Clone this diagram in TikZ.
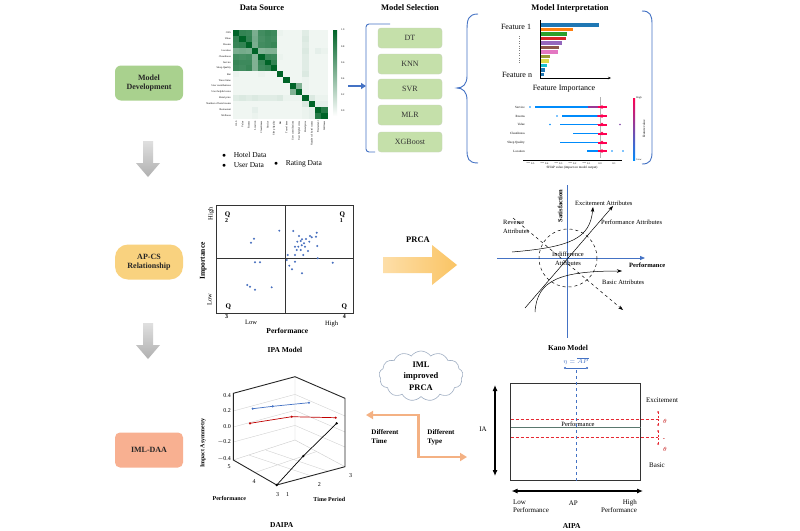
\documentclass[tikz,border=0pt]{standalone}
\usepackage{fontspec}
\setmainfont{Liberation Serif}
\usetikzlibrary{shapes.arrows,shapes.symbols,arrows.meta}
\definecolor{hm}{RGB}{0,100,40}
\definecolor{mdg}{RGB}{169,209,142}
\definecolor{msg}{RGB}{197,224,170}
\definecolor{apo}{RGB}{249,210,127}
\definecolor{iml}{RGB}{248,176,145}
\definecolor{bl}{RGB}{68,114,196}
\definecolor{dotb}{RGB}{70,110,190}
\definecolor{orl}{RGB}{244,177,131}
\definecolor{rd}{RGB}{192,0,0}
\definecolor{rdd}{RGB}{230,40,50}
\definecolor{shb}{RGB}{0,139,251}
\definecolor{shr}{RGB}{255,0,82}
\definecolor{pln}{RGB}{90,120,110}
\definecolor{cldc}{RGB}{160,175,195}
\definecolor{pal}{RGB}{253,222,168}
\definecolor{par}{RGB}{250,196,100}
\tikzset{
  lbl/.style={font=\fontsize{6.5}{7.5}\selectfont, inner sep=0},
  tiny/.style={font=\fontsize{2.6}{3}\selectfont, inner sep=0},
  ttl/.style={font=\bfseries\fontsize{8.5}{10}\selectfont, inner sep=0},
  blbl/.style={font=\bfseries\fontsize{7}{8}\selectfont, inner sep=0},
  stagebox/.style={minimum width=68, minimum height=35, align=center, font=\bfseries\fontsize{8}{9.5}\selectfont, text=black!85},
  msbox/.style={fill=msg, draw=msg!80!black!60, rounded corners=3, minimum width=64, minimum height=20, font=\fontsize{8}{9}\selectfont, text=black!80},
  greyshade/.style={top color=gray!25, bottom color=gray!62},
  ktip/.style={-{Stealth[length=5,width=3.5]}, line width=0.5},
}
\begin{document}
\begin{tikzpicture}[x=1pt,y=-1pt]
\useasboundingbox[fill=white] (0,0) rectangle (800,530);

% ---------- left stages ----------
\node[stagebox, fill=mdg, rounded corners=6] (md) at (149,83) {Model\\Development};
\node[stagebox, fill=apo, rounded corners=13] (ap) at (149,262) {AP-CS\\Relationship};
\node[stagebox, fill=iml, rounded corners=5] (ia) at (149,450) {IML-DAA};
\shade[greyshade] (143,141) -- (153,141) -- (153,163) -- (160,163) -- (148,177) -- (136,163) -- (143,163) -- cycle;
\shade[greyshade] (143,323) -- (153,323) -- (153,345) -- (160,345) -- (148,359) -- (136,345) -- (143,345) -- cycle;

% ---------- Data source ----------
\node[ttl] (tds) at (262,8) {Data Source};
\foreach \row [count=\i from 0] in {
 {100,80,78,52,74,78,76,8,6,6,6,12,6,6,6},
 {80,100,80,54,72,76,74,6,6,6,6,14,6,6,6},
 {78,80,100,52,74,76,78,6,6,6,6,12,6,6,6},
 {52,54,52,100,48,50,50,6,6,6,6,14,6,10,8},
 {74,72,74,48,100,78,76,8,6,6,6,12,6,6,6},
 {78,76,76,50,78,100,80,6,6,6,6,12,6,6,6},
 {76,74,78,50,76,80,100,6,6,6,6,12,6,6,6},
 {8,6,6,6,8,6,6,100,6,6,6,14,6,6,6},
 {6,6,6,6,6,6,6,6,100,6,6,8,6,6,6},
 {6,6,6,6,6,6,6,6,6,100,50,8,6,6,6},
 {6,6,6,6,6,6,6,6,6,50,100,8,6,6,6},
 {12,14,12,14,12,12,12,14,8,8,8,100,14,8,8},
 {6,6,6,6,6,6,6,6,6,6,6,14,100,10,10},
 {6,6,6,10,6,6,6,6,6,6,6,8,10,100,86},
 {6,6,6,8,6,6,6,6,6,6,6,8,10,86,100}}{
  \foreach \v [count=\j from 0] in \row {
    \fill[hm!\v!white] ({233+\j*6.3},{30+\i*5.9}) rectangle ++(6.3,5.9);
  }
}
\foreach \t [count=\k from 0] in {OLS, Value, Rooms, Location, Cleanliness, Service, Sleep Quality, Bar, Travel time, User contributions, User helpful votes, Hotel price, Number of hotel rooms, Restaurant, Wellness}{
  \node[tiny, anchor=east] (rl\k) at (231,{30+(\k+0.5)*5.9}) {\t};
  \node[tiny, anchor=east, rotate=90] (cl\k) at ({233+(\k+0.5)*6.3},121) {\t};
}
\shade[top color=hm, bottom color=white] (333,30) rectangle (337,116);
\foreach \t [count=\k from 0] in {1.0,0.8,0.6,0.4,0.2,0.0}{
  \node[tiny, anchor=west] (cb\k) at (341,{30+\k*16.2}) {\t};
}
\node[lbl, font=\fontsize{7.5}{9}\selectfont, anchor=west] (hd) at (222,155) {$\bullet$\quad Hotel Data};
\node[lbl, font=\fontsize{7.5}{9}\selectfont, anchor=west] (ud) at (222,165) {$\bullet$\quad User Data};
\node[lbl, font=\fontsize{7.5}{9}\selectfont, anchor=west] (rdta) at (274,164) {$\bullet$\quad Rating Data};
\coordinate (bas) at (348,86);
\coordinate (brk) at (366,86);
\draw[bl, line width=1.8, -{Triangle[length=5,width=6]}] (bas) -- (brk);

% ---------- Model selection ----------
\node[ttl] (tms) at (410,8) {Model Selection};
\draw[bl, line width=0.9, rounded corners=3] (390,24) -- (366,24) -- (366,152) -- (375,152);
\node[msbox] (dt) at (410,38) {DT};
\node[msbox] (knn) at (410,64) {KNN};
\node[msbox] (svr) at (410,89) {SVR};
\node[msbox] (mlr) at (410,115) {MLR};
\node[msbox] (xgb) at (410,142) {XGBoost};
\draw[bl, line width=0.9] (478,14) .. controls (468,14) and (467,20) .. (467,30) -- (467,76)
  .. controls (467,84) and (463,88) .. (457,88) .. controls (463,88) and (467,92) .. (467,100)
  -- (467,150) .. controls (467,158) and (468,163) .. (478,163);
\draw[bl, line width=0.9] (642,11) .. controls (650,11) and (652,15) .. (652,24) -- (652,152) .. controls (652,160) and (650,164) .. (642,164);

% ---------- Model interpretation ----------
\node[ttl] (tmi) at (570,8) {Model Interpretation};
\node[lbl, font=\fontsize{8}{9}\selectfont] (f1) at (516,27) {Feature 1};
\node[lbl, font=\fontsize{8}{9}\selectfont] (fn) at (517,75) {Feature n};
\draw[dotted, gray] (519,36) -- (519,64);
\coordinate (ax0) at (540,78);
\coordinate (axx) at (611,78);
\coordinate (axy) at (540,20);
\draw[line width=0.5, -{Stealth[length=3,width=2.5]}] (ax0) -- (axx);
\draw[line width=0.5] (ax0) -- (axy);
\foreach \len/\yy/\c in {58/25/1f77b4,32/29.5/ff7f0e,26/34/2ca02c,25/38.5/d62728,21/43/9467bd,18/47.5/8c564b,17/52/e377c2,9/56.5/9a9a3a,8/61/dbdb4a,6/65.5/17becf,4/70/1f77b4,3/74.5/1f77b4}{
  \definecolor{bc}{HTML}{\c}
  \fill[bc] (540.5,{\yy-1.6}) rectangle ++(\len,3.2);
}
\node[lbl, font=\fontsize{8}{9}\selectfont] (fi) at (564,89) {Feature Importance};
% shap plot
\draw[gray!60, line width=0.4] (600,97) -- (600,158);
\foreach \nm/\yy/\st/\en [count=\k] in {Service/107/535/588, Rooms/116/562/597, Value/124.5/560/597, Cleanliness/133.5/573/598, Sleep Quality/142.5/560/598, Location/151/587/598}{
  \node[tiny, font=\fontsize{3.2}{4}\selectfont, anchor=east] (sr\k) at (525,\yy) {\nm};
  \draw[shb, line width=1.3] (\st,\yy) -- (\en,\yy);
  \draw[shb!40!shr, line width=1.6] (\en,\yy) -- (600,\yy);
  \draw[shr, line width=2] (598,\yy) -- (607,\yy);
  \fill[shr] (602,\yy) circle (1.8);
}
\fill[shb] (530,107) circle (0.8);
\fill[shb] (557,116) circle (0.8);
\fill[shb] (550,124.5) circle (0.8);
\fill[shb!50!shr] (620,124.5) circle (0.8);
\fill[shb] (623,151) circle (0.8);
\fill[shb] (612,151) circle (0.8);
\draw[line width=0.4] (523,160) -- (622,160);
\foreach \t [count=\k from 0] in {$-$0.5,$-$0.4,$-$0.3,$-$0.2,$-$0.1,0.0,0.1}{
  \node[tiny] (sx\k) at ({530+\k*14},163.5) {\t};
}
\node[tiny, font=\fontsize{3.3}{4}\selectfont] (sxl) at (572,168) {SHAP value (impact on model output)};
\shade[top color=shr, bottom color=shb] (633,98) rectangle (635,160);
\node[tiny] (hi) at (639,98) {High};
\node[tiny] (lo) at (639,160) {Low};
\node[tiny, font=\fontsize{3.3}{4}\selectfont, rotate=90] (fv) at (644,129) {Feature value};

% ---------- IPA ----------
\draw[black!80, line width=0.9] (216,205) rectangle (353,313);
\draw[black!80, line width=0.9] (285,205) -- (285,313);
\draw[black!80, line width=0.9] (216,258) -- (353,258);
\node[blbl] (q2) at (227.7,214.3) {Q};
\node[blbl, font=\bfseries\fontsize{6}{7}\selectfont] (q2n) at (226.7,221) {2};
\node[blbl] (q1) at (342.3,214.3) {Q};
\node[blbl, font=\bfseries\fontsize{6}{7}\selectfont] (q1n) at (341.3,221) {1};
\node[blbl] (q3) at (228.3,306.7) {Q};
\node[blbl, font=\bfseries\fontsize{6}{7}\selectfont] (q3n) at (226.7,316.5) {3};
\node[blbl] (q4) at (344.3,306.7) {Q};
\node[blbl, font=\bfseries\fontsize{6}{7}\selectfont] (q4n) at (344.3,316.5) {4};
\node[lbl, rotate=90] (ihi) at (211,213.5) {High};
\node[lbl, rotate=90] (ilo) at (209.5,299.5) {Low};
\node[blbl, font=\bfseries\fontsize{7.5}{9}\selectfont, rotate=90] (imp) at (203.3,261) {Importance};
\node[lbl] (plo) at (251,322.7) {Low};
\node[lbl] (phi) at (331.7,324) {High};
\node[blbl, font=\bfseries\fontsize{7.5}{9}\selectfont] (perf) at (287.3,331) {Performance};
\foreach \p in {(279.3,230.7),(293.3,231),(254,238.7),(251,242.7),(316.7,232.7),(310,236),(311.7,237.3),(316,236.7),(297.3,241.7),(300.7,241),(302,239.3),(304,243.3),(309.3,241.7),(317.3,246),(295,246.7),(298.3,246.7),(301.7,245.3),(305,246.7),(296.7,250),(300.7,250),(308,251),(287.7,255),(295,255),(303.3,255),(317.7,258.3),(286.7,260),(295,261.7),(332.7,262.7),(255,262.3),(260,262.3),(289.3,265.7),(292,269.3),(302,273.3),(247.3,285),(250,286.7),(255,289.7),(271.7,287.3),(299,236),(306,239)}{
  \fill[dotb] \p circle (1.1);
}
\node[ttl, font=\bfseries\fontsize{7.5}{9}\selectfont] (ipa) at (285,350) {IPA Model};

% ---------- PRCA arrow ----------
\shade[left color=pal, right color=par] (383,257) -- (432,257) -- (432,245) -- (457,265) -- (432,285) -- (432,273) -- (383,273) -- cycle;
\node[ttl] (prca) at (418,240) {PRCA};

% ---------- Kano ----------
\coordinate (kt) at (567,185);
\coordinate (kb) at (567,338);
\coordinate (kl) at (497,258);
\coordinate (kr) at (645,258);
\draw[bl, line width=0.8] (kt) -- (kb);
\draw[bl, line width=0.8, -{Triangle[length=5,width=4]}] (kl) -- (kr);
\node[blbl, font=\bfseries\fontsize{6.5}{7.5}\selectfont, rotate=90] (sat) at (560,206) {Satisfaction};
\node[blbl, font=\bfseries\fontsize{6.5}{7.5}\selectfont, anchor=west] (kperf) at (629,265) {Performance};
\draw[dashed, line width=0.5] (568,258) circle (29);
\coordinate (e0) at (512,252); \coordinate (e1) at (593,207);
\coordinate (p0) at (525,308); \coordinate (p1) at (613,206);
\coordinate (b0) at (535,312); \coordinate (b1) at (622,271);
\coordinate (r0) at (513,218); \coordinate (r1) at (623,310);
\draw[ktip] (e0) .. controls (572,247) and (590,238) .. (e1);
\draw[ktip] (p0) -- (p1);
\draw[ktip] (b0) .. controls (537,280) and (560,271) .. (b1);
\draw[ktip, dashed] (r0) -- (r1);
\node[lbl, anchor=west] (ea) at (575,203) {Excitement Attributes};
\node[lbl, anchor=west] (pat) at (601,222) {Performance Attributes};
\node[lbl, anchor=west] (bat) at (602,282) {Basic Attributes};
\node[lbl, align=left, anchor=west] (rat) at (503,227) {Reverse\\[1.5pt]Attributes};
\node[lbl, align=center] (iat) at (568,259) {Indifference\\[1.5pt]Attributes};
\node[ttl, font=\bfseries\fontsize{7.5}{9}\selectfont] (kano) at (568,348) {Kano Model};

% ---------- DAIPA ----------
\coordinate (TL) at (233.3,393.3); \coordinate (TB) at (295,376.7); \coordinate (TR) at (345,398.3);
\coordinate (RB) at (345,466.7); \coordinate (FB) at (276.7,485); \coordinate (LB) at (233.3,460);
\coordinate (BB) at (295,440);
\draw[gray!40, line width=0.4] (TB) -- (BB) -- (LB) (BB) -- (RB);
\foreach \yy in {411,427,442}{
  \draw[gray!35, line width=0.4] (233.3,\yy) -- (295,{\yy-16.6}) -- (345,{\yy+5});
}
\draw[gray!35, line width=0.4] (255,472.5) -- (316.7,451.5) (310.8,475.8) -- (249.1,455.1) (328,471.3) -- (266.2,450.2);
\draw[black!85, line width=0.9] (TL) -- (TB) -- (TR) -- (RB) -- (FB) -- (LB) -- cycle;
\draw[bl, line width=0.7] (252.7,408.7) -- (272.7,406.3) -- (309,402.7);
\foreach \p in {(252.7,408.7),(272.7,406.3),(309,402.7)} \fill[bl] \p circle (1.2);
\draw[rd, line width=0.7] (250,423.3) -- (291.7,416.7) -- (335.7,417.7);
\foreach \p in {(250,423.3),(291.7,416.7),(335.7,417.7)} \fill[rd] \p circle (1.2);
\draw[black, line width=0.7] (336.7,423.3) -- (303.3,456) -- (276.7,485);
\foreach \p in {(336.7,423.3),(303.3,456),(276.7,485)} \fill[black] \p circle (1.3);
\foreach \t/\yy [count=\k] in {0.4/396,0.2/411,0.0/426.7,$-$0.2/442.3,$-$0.4/459.3}{
  \node[lbl, font=\fontsize{6}{7}\selectfont, anchor=east] (zt\k) at (231,\yy) {\t};
}
\node[blbl, font=\bfseries\fontsize{6}{7}\selectfont, rotate=90] (iasy) at (203,443) {Impact Asymmetry};
\node[lbl, font=\fontsize{6}{7}\selectfont] (pt5) at (229,467) {5};
\node[lbl, font=\fontsize{6}{7}\selectfont] (pt4) at (254,481.7) {4};
\node[lbl, font=\fontsize{6}{7}\selectfont] (pt3) at (277.7,495) {3};
\node[lbl, font=\fontsize{6}{7}\selectfont] (tt1) at (287.7,495) {1};
\node[lbl, font=\fontsize{6}{7}\selectfont] (tt2) at (319.3,485) {2};
\node[lbl, font=\fontsize{6}{7}\selectfont] (tt3) at (350.7,475.7) {3};
\node[blbl, font=\bfseries\fontsize{6}{7}\selectfont] (dperf) at (229.3,498.3) {Performance};
\node[blbl, font=\bfseries\fontsize{6}{7}\selectfont] (dtime) at (329.3,499.3) {Time Period};
\node[ttl, font=\bfseries\fontsize{7.5}{9}\selectfont] (daipa) at (281.7,525.5) {DAIPA};

% ---------- cloud and elbow arrow ----------
\node[cloud, cloud puffs=13, cloud puff arc=110, aspect=1.7, draw=cldc, line width=0.6, minimum width=84, minimum height=50, inner sep=0, align=center, font=\bfseries\fontsize{8.5}{11.5}\selectfont] (cld) at (421,376) {IML\\improved\\PRCA};
\coordinate (eL) at (366,415);
\coordinate (eR) at (467,457);
\draw[orl, line width=2.8, {Triangle[length=7,width=8]}-{Triangle[length=7,width=8]}] (eL) -- (418.3,415) |- (eR);
\node[blbl, font=\bfseries\fontsize{7}{9}\selectfont, align=left] (dtm) at (385,437) {Different\\Time};
\node[blbl, font=\bfseries\fontsize{7}{9}\selectfont, align=left] (dty) at (441,437) {Different\\Type};

% ---------- AIPA ----------
\draw[black!80, line width=0.9] (510.7,383.3) rectangle (640.7,480.7);
\draw[pln, line width=0.6] (510.7,427.7) -- (640.7,427.7);
\draw[rdd, dash pattern=on 3pt off 2pt, line width=0.7] (510.7,419) -- (658,419) (510.7,437.7) -- (658,437.7);
\draw[rdd, dash pattern=on 2pt off 1.5pt, line width=0.5] (658,412) -- (658,425) (658,431) -- (658,444);
\foreach \yy in {412,425,431,444} \fill[rdd] (658,\yy) circle (1);
\node[lbl, text=rd] (th1) at (665,421) {$\theta$};
\node[lbl, text=rd] (thm) at (664,440) {-};
\node[lbl, text=rd] (th2) at (665,449.5) {$\theta$};
\node[lbl, font=\fontsize{7}{8}\selectfont] (exc) at (662,400) {Excitement};
\node[lbl, font=\fontsize{7}{8}\selectfont] (bas2) at (657,465) {Basic};
\node[lbl] (aperf) at (578,424) {Performance};
\draw[bl, dashed, line width=0.6] (576,370) -- (576,480.7);
\node[lbl, text=bl, font=\fontsize{6}{7}\selectfont] (eta) at (576,361) {$\eta=\overline{AP}$};
\coordinate (etl) at (564,368); \coordinate (etr) at (588,368);
\draw[bl, line width=0.5, {Circle[length=2]}-{Circle[length=2]}] (etl) -- (etr);
\coordinate (v0) at (495,385); \coordinate (v1) at (495,476);
\coordinate (h0) at (511.5,491); \coordinate (h1) at (643,491);
\draw[line width=1.1, {Latex[length=6,width=5]}-{Latex[length=6,width=5]}] (v0) -- (v1);
\draw[line width=1.1, {Latex[length=6,width=5]}-{Latex[length=6,width=5]}] (h0) -- (h1);
\node[lbl, font=\fontsize{7}{8}\selectfont] (ialbl) at (483,429) {IA};
\node[lbl, font=\fontsize{7}{8}\selectfont, align=left] (lowp) at (531,506) {Low\\Performance};
\node[lbl, font=\fontsize{7}{8}\selectfont] (apl) at (573.3,502.7) {AP};
\node[lbl, font=\fontsize{7}{8}\selectfont, align=right] (highp) at (619,506) {High\\Performance};
\node[ttl, font=\bfseries\fontsize{7.5}{9}\selectfont] (aipa) at (571.7,526) {AIPA};
\end{tikzpicture}
\end{document}
